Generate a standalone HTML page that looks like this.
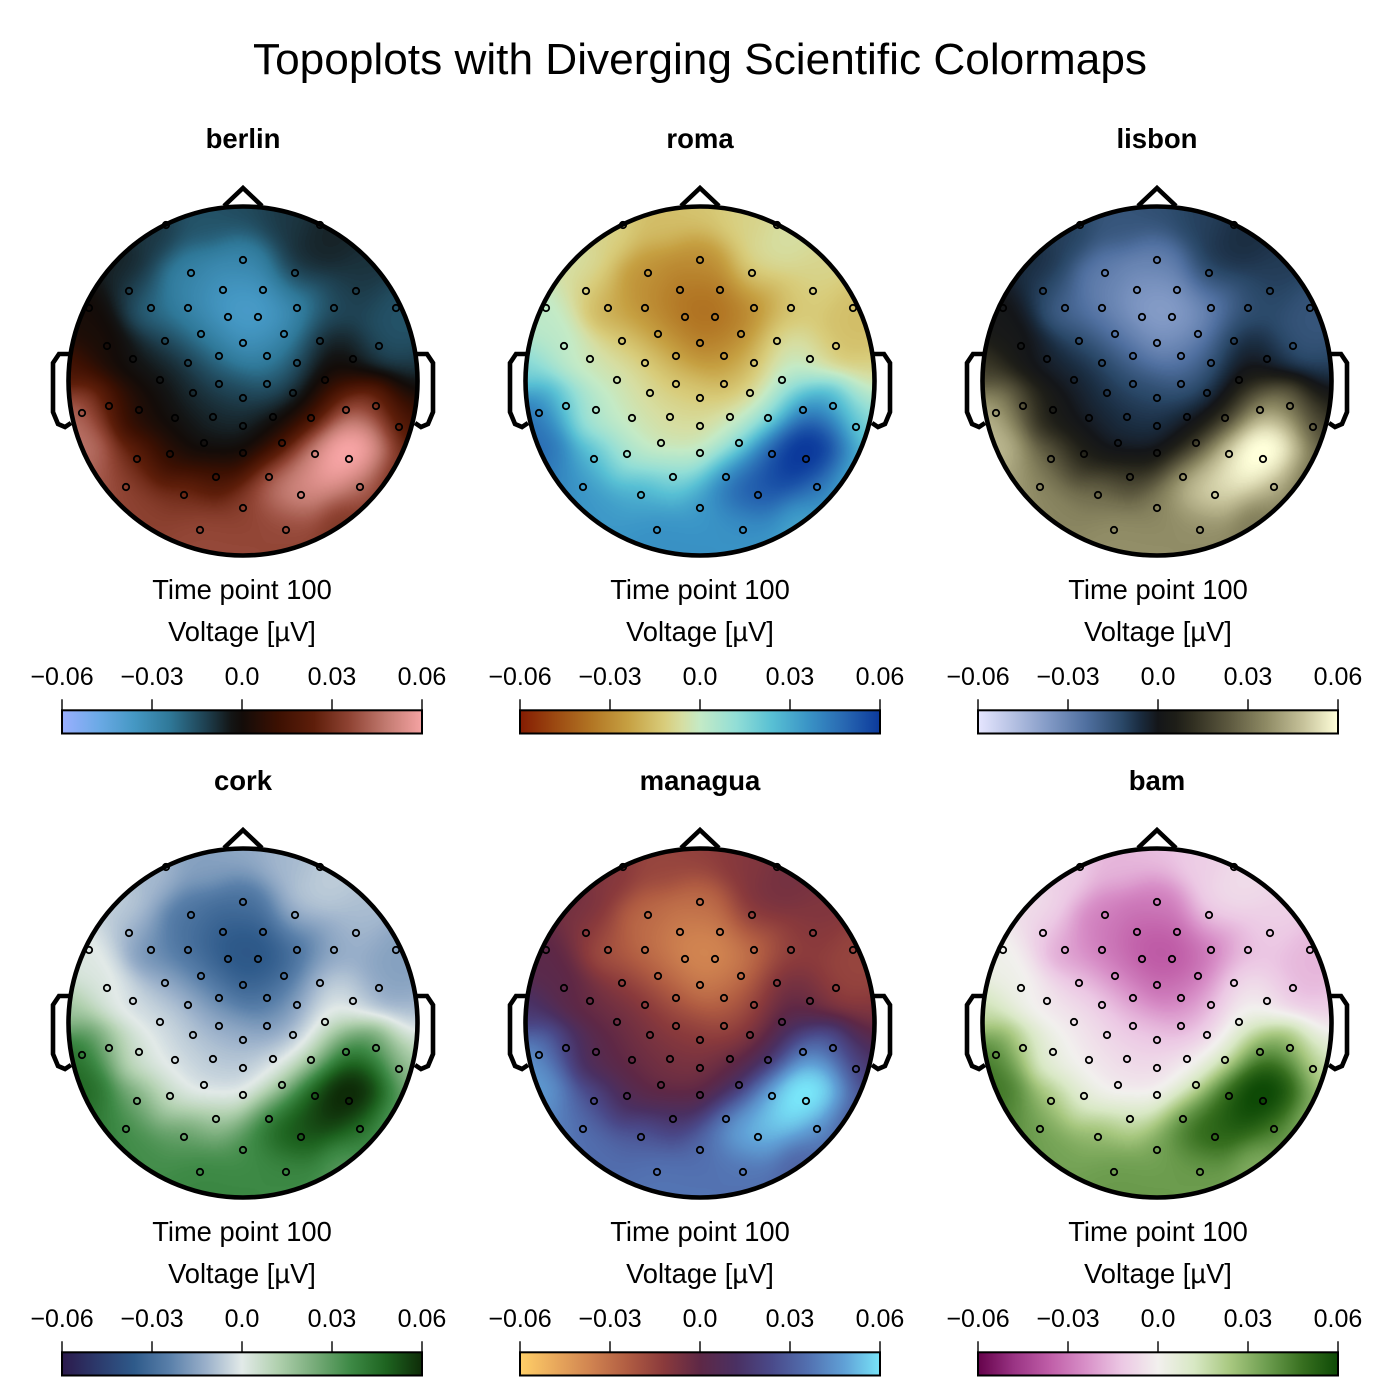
<!DOCTYPE html>
<html><head><meta charset="utf-8">
<style>
html,body{margin:0;padding:0;background:#fff;}
#wrap{position:relative;width:1400px;height:1400px;overflow:hidden;background:#fff;}
canvas{position:absolute;}
svg{position:absolute;left:0;top:0;}
text{font-family:"Liberation Sans",Arial,sans-serif;fill:#000;}
</style></head><body>
<div id="wrap">
<canvas id="c0" width="352" height="352" style="left:67px;top:205px"></canvas>
<canvas id="c1" width="352" height="352" style="left:524px;top:205px"></canvas>
<canvas id="c2" width="352" height="352" style="left:981px;top:205px"></canvas>
<canvas id="c3" width="352" height="352" style="left:67px;top:847px"></canvas>
<canvas id="c4" width="352" height="352" style="left:524px;top:847px"></canvas>
<canvas id="c5" width="352" height="352" style="left:981px;top:847px"></canvas>
<svg width="1400" height="1400" viewBox="0 0 1400 1400">
<defs>
<linearGradient id="g0" x1="0" x2="1" y1="0" y2="0">
<stop offset="0" stop-color="#9AAFFF"/><stop offset="0.1" stop-color="#6CAAE6"/><stop offset="0.2" stop-color="#4598C4"/><stop offset="0.3" stop-color="#2F7898"/><stop offset="0.4" stop-color="#1E4050"/><stop offset="0.47" stop-color="#131515"/><stop offset="0.5" stop-color="#130C09"/><stop offset="0.6" stop-color="#3C1002"/><stop offset="0.7" stop-color="#5E1E0A"/><stop offset="0.8" stop-color="#904434"/><stop offset="0.9" stop-color="#C27A70"/><stop offset="1" stop-color="#F5A3A3"/>
</linearGradient>
<linearGradient id="g1" x1="0" x2="1" y1="0" y2="0">
<stop offset="0" stop-color="#841C02"/><stop offset="0.1" stop-color="#9C4A12"/><stop offset="0.2" stop-color="#B27624"/><stop offset="0.3" stop-color="#C6A042"/><stop offset="0.4" stop-color="#D8CC7A"/><stop offset="0.45" stop-color="#D6DEA2"/><stop offset="0.5" stop-color="#C4EAC6"/><stop offset="0.6" stop-color="#92DED6"/><stop offset="0.7" stop-color="#58C0D4"/><stop offset="0.8" stop-color="#3A94C6"/><stop offset="0.9" stop-color="#2868B2"/><stop offset="1" stop-color="#0C3A9C"/>
</linearGradient>
<linearGradient id="g2" x1="0" x2="1" y1="0" y2="0">
<stop offset="0" stop-color="#E6E6FF"/><stop offset="0.1" stop-color="#B4C0E2"/><stop offset="0.2" stop-color="#8098C4"/><stop offset="0.3" stop-color="#5070A0"/><stop offset="0.4" stop-color="#2A4868"/><stop offset="0.45" stop-color="#1A2C40"/><stop offset="0.5" stop-color="#141619"/><stop offset="0.55" stop-color="#1E1E18"/><stop offset="0.6" stop-color="#323022"/><stop offset="0.7" stop-color="#5E5A40"/><stop offset="0.8" stop-color="#8E8A64"/><stop offset="0.9" stop-color="#C4C098"/><stop offset="1" stop-color="#FFFFDA"/>
</linearGradient>
<linearGradient id="g3" x1="0" x2="1" y1="0" y2="0">
<stop offset="0" stop-color="#2C1A4C"/><stop offset="0.1" stop-color="#2C3A6C"/><stop offset="0.2" stop-color="#2E5A8A"/><stop offset="0.3" stop-color="#5A80AA"/><stop offset="0.4" stop-color="#9AB0CA"/><stop offset="0.5" stop-color="#E2EAE8"/><stop offset="0.6" stop-color="#B0D0AE"/><stop offset="0.7" stop-color="#78AC7A"/><stop offset="0.8" stop-color="#3E8A46"/><stop offset="0.9" stop-color="#1E6420"/><stop offset="1" stop-color="#0E2C08"/>
</linearGradient>
<linearGradient id="g4" x1="0" x2="1" y1="0" y2="0">
<stop offset="0" stop-color="#FFCF68"/><stop offset="0.1" stop-color="#E8A85C"/><stop offset="0.2" stop-color="#CF8250"/><stop offset="0.3" stop-color="#B05C42"/><stop offset="0.4" stop-color="#8A3A3C"/><stop offset="0.5" stop-color="#5E2846"/><stop offset="0.6" stop-color="#4A3062"/><stop offset="0.7" stop-color="#4A4A8A"/><stop offset="0.8" stop-color="#5270B0"/><stop offset="0.9" stop-color="#60A0D6"/><stop offset="1" stop-color="#78E4F8"/>
</linearGradient>
<linearGradient id="g5" x1="0" x2="1" y1="0" y2="0">
<stop offset="0" stop-color="#65024B"/><stop offset="0.1" stop-color="#9A3484"/><stop offset="0.2" stop-color="#C05EA8"/><stop offset="0.3" stop-color="#D890C8"/><stop offset="0.4" stop-color="#ECC8E4"/><stop offset="0.5" stop-color="#F2F0EE"/><stop offset="0.6" stop-color="#D8E8C4"/><stop offset="0.7" stop-color="#A8C880"/><stop offset="0.8" stop-color="#6E9E50"/><stop offset="0.9" stop-color="#387020"/><stop offset="1" stop-color="#0E4A06"/>
</linearGradient>
<g id="hd" fill="none" stroke="#000" stroke-width="4.6" stroke-linejoin="miter">
<circle cx="0" cy="0" r="174.5"/>
<polyline points="-19,-175 0,-193 19,-175"/>
<polyline points="-173,-27 -184,-27 -190,-18 -190,31 -185,43 -178,46 -172,42"/>
<polyline points="173,-27 184,-27 190,-18 190,31 185,43 178,46 172,42"/>
</g>
<g id="el" fill="none" stroke="#000" stroke-width="1.8">
<circle cx="0" cy="-121" r="3.2"/><circle cx="-52" cy="-108" r="3.2"/><circle cx="52" cy="-108" r="3.2"/><circle cx="-114" cy="-90" r="3.2"/><circle cx="-20" cy="-91" r="3.2"/><circle cx="20" cy="-91" r="3.2"/><circle cx="113" cy="-90" r="3.2"/>
<circle cx="-154" cy="-73" r="3.2"/><circle cx="-92" cy="-73" r="3.2"/><circle cx="-55" cy="-73" r="3.2"/><circle cx="-15" cy="-64" r="3.2"/><circle cx="15" cy="-64" r="3.2"/><circle cx="54" cy="-73" r="3.2"/><circle cx="91" cy="-73" r="3.2"/><circle cx="153" cy="-73" r="3.2"/>
<circle cx="-42" cy="-47" r="3.2"/><circle cx="41" cy="-47" r="3.2"/><circle cx="-78" cy="-40" r="3.2"/><circle cx="0" cy="-38" r="3.2"/><circle cx="77" cy="-40" r="3.2"/><circle cx="-136" cy="-35" r="3.2"/><circle cx="136" cy="-35" r="3.2"/>
<circle cx="-110" cy="-22" r="3.2"/><circle cx="-24" cy="-25" r="3.2"/><circle cx="24" cy="-25" r="3.2"/><circle cx="-55" cy="-18" r="3.2"/><circle cx="54" cy="-18" r="3.2"/><circle cx="110" cy="-22" r="3.2"/>
<circle cx="-83" cy="-1" r="3.2"/><circle cx="-24" cy="3" r="3.2"/><circle cx="24" cy="3" r="3.2"/><circle cx="82" cy="-1" r="3.2"/><circle cx="-50" cy="12" r="3.2"/><circle cx="50" cy="12" r="3.2"/><circle cx="0" cy="17" r="3.2"/>
<circle cx="-161" cy="32" r="3.2"/><circle cx="-134" cy="25" r="3.2"/><circle cx="-104" cy="29" r="3.2"/><circle cx="-68" cy="37" r="3.2"/><circle cx="-30" cy="36" r="3.2"/><circle cx="30" cy="36" r="3.2"/><circle cx="68" cy="37" r="3.2"/><circle cx="103" cy="29" r="3.2"/><circle cx="133" cy="25" r="3.2"/>
<circle cx="0" cy="45" r="3.2"/><circle cx="156" cy="46" r="3.2"/><circle cx="-39" cy="62" r="3.2"/><circle cx="39" cy="62" r="3.2"/><circle cx="0" cy="72" r="3.2"/><circle cx="-106" cy="78" r="3.2"/><circle cx="-73" cy="73" r="3.2"/><circle cx="72" cy="73" r="3.2"/><circle cx="106" cy="78" r="3.2"/>
<circle cx="-27" cy="96" r="3.2"/><circle cx="26" cy="96" r="3.2"/><circle cx="-117" cy="106" r="3.2"/><circle cx="-59" cy="114" r="3.2"/><circle cx="58" cy="114" r="3.2"/><circle cx="117" cy="106" r="3.2"/><circle cx="0" cy="127" r="3.2"/><circle cx="-43" cy="149" r="3.2"/><circle cx="43" cy="149" r="3.2"/>
<circle cx="-77" cy="-156" r="3.2"/><circle cx="77" cy="-156" r="3.2"/>
</g>
</defs>

<text x="700" y="74" font-size="44" text-anchor="middle" textLength="894" lengthAdjust="spacingAndGlyphs">Topoplots with Diverging Scientific Colormaps</text>

<use href="#el" x="243" y="381"/><use href="#hd" x="243" y="381"/>
<use href="#el" x="700" y="381"/><use href="#hd" x="700" y="381"/>
<use href="#el" x="1157" y="381"/><use href="#hd" x="1157" y="381"/>
<use href="#el" x="243" y="1023"/><use href="#hd" x="243" y="1023"/>
<use href="#el" x="700" y="1023"/><use href="#hd" x="700" y="1023"/>
<use href="#el" x="1157" y="1023"/><use href="#hd" x="1157" y="1023"/>

<g font-weight="bold" font-size="27.5" text-anchor="middle">
<text x="243" y="148">berlin</text>
<text x="700" y="148">roma</text>
<text x="1157" y="148">lisbon</text>
<text x="243" y="790">cork</text>
<text x="700" y="790">managua</text>
<text x="1157" y="790">bam</text>
</g>

<g font-size="27.3" text-anchor="middle">
<text x="242" y="599">Time point 100</text><text x="242" y="641">Voltage [µV]</text>
<text x="700" y="599">Time point 100</text><text x="700" y="641">Voltage [µV]</text>
<text x="1158" y="599">Time point 100</text><text x="1158" y="641">Voltage [µV]</text>
<text x="242" y="1241">Time point 100</text><text x="242" y="1283">Voltage [µV]</text>
<text x="700" y="1241">Time point 100</text><text x="700" y="1283">Voltage [µV]</text>
<text x="1158" y="1241">Time point 100</text><text x="1158" y="1283">Voltage [µV]</text>
</g>

<g font-size="25" text-anchor="middle">
<text x="62" y="685">−0.06</text><text x="152" y="685">−0.03</text><text x="242" y="685">0.0</text><text x="332" y="685">0.03</text><text x="422" y="685">0.06</text>
<text x="520" y="685">−0.06</text><text x="610" y="685">−0.03</text><text x="700" y="685">0.0</text><text x="790" y="685">0.03</text><text x="880" y="685">0.06</text>
<text x="978" y="685">−0.06</text><text x="1068" y="685">−0.03</text><text x="1158" y="685">0.0</text><text x="1248" y="685">0.03</text><text x="1338" y="685">0.06</text>
<text x="62" y="1327">−0.06</text><text x="152" y="1327">−0.03</text><text x="242" y="1327">0.0</text><text x="332" y="1327">0.03</text><text x="422" y="1327">0.06</text>
<text x="520" y="1327">−0.06</text><text x="610" y="1327">−0.03</text><text x="700" y="1327">0.0</text><text x="790" y="1327">0.03</text><text x="880" y="1327">0.06</text>
<text x="978" y="1327">−0.06</text><text x="1068" y="1327">−0.03</text><text x="1158" y="1327">0.0</text><text x="1248" y="1327">0.03</text><text x="1338" y="1327">0.06</text>
</g>

<g stroke="#000" stroke-width="2">
<rect x="62" y="710.3" width="360" height="23.2" fill="url(#g0)"/>
<rect x="520" y="710.3" width="360" height="23.2" fill="url(#g1)"/>
<rect x="978" y="710.3" width="360" height="23.2" fill="url(#g2)"/>
<rect x="62" y="1352.3" width="360" height="23.2" fill="url(#g3)"/>
<rect x="520" y="1352.3" width="360" height="23.2" fill="url(#g4)"/>
<rect x="978" y="1352.3" width="360" height="23.2" fill="url(#g5)"/>
</g>
<g stroke="#000" stroke-width="1.4">
<path d="M62 699.3V710.3M152 699.3V710.3M242 699.3V710.3M332 699.3V710.3M422 699.3V710.3"/>
<path d="M520 699.3V710.3M610 699.3V710.3M700 699.3V710.3M790 699.3V710.3M880 699.3V710.3"/>
<path d="M978 699.3V710.3M1068 699.3V710.3M1158 699.3V710.3M1248 699.3V710.3M1338 699.3V710.3"/>
<path d="M62 1341.3V1352.3M152 1341.3V1352.3M242 1341.3V1352.3M332 1341.3V1352.3M422 1341.3V1352.3"/>
<path d="M520 1341.3V1352.3M610 1341.3V1352.3M700 1341.3V1352.3M790 1341.3V1352.3M880 1341.3V1352.3"/>
<path d="M978 1341.3V1352.3M1068 1341.3V1352.3M1158 1341.3V1352.3M1248 1341.3V1352.3M1338 1341.3V1352.3"/>
</g>
</svg>
</div>
<script>
(function(){
var P=[
[0,-121,-2.8],[-52,-108,-2.7],[52,-108,-0.7],[-114,-90,-1.0],[-20,-91,-3.5],[20,-91,-3.6],[113,-90,-1.0],
[-154,-73,0.0],[-92,-73,-2.3],[-55,-73,-3.0],[-15,-64,-3.9],[15,-64,-4.0],[54,-73,-3.1],[91,-73,-1.5],[153,-73,-1.6],
[-42,-47,-2.6],[41,-47,-3.3],[-78,-40,-1.2],[0,-38,-3.5],[77,-40,-0.4],[-136,-35,0.2],[136,-35,-1.6],
[-110,-22,-0.3],[-24,-25,-2.3],[24,-25,-2.8],[-55,-18,-0.9],[54,-18,-1.5],[110,-22,-0.3],
[-83,-1,-0.2],[-24,3,-1.4],[24,3,-2.1],[82,-1,0.5],[-50,12,-0.7],[50,12,-1.0],[0,17,-1.2],
[-161,32,4.4],[-134,25,1.6],[-104,29,0.3],[-68,37,-0.2],[-30,36,-0.6],[30,36,-0.2],[68,37,1.4],[103,29,3.8],[133,25,2.6],
[0,45,-0.7],[156,46,2.2],[-39,62,-0.5],[39,62,0.6],[0,72,-0.3],[-106,78,2.4],[-73,73,0.6],[72,73,5.4],[106,78,6.2],
[-27,96,1.6],[26,96,4.6],[-117,106,3.6],[-59,114,3.0],[58,114,5.2],[117,106,3.6],[0,127,3.5],[-43,149,3.7],[43,149,3.7],
[0,-172,-1.4],[-40,-160,-1.6],[40,-160,-1.0],[-90,-145,-1.0],[90,-140,-0.6],[-130,-115,-0.5],[130,-115,-0.9],
[-160,-65,0.3],[160,-65,-1.6],[-173,-10,1.5],[174,-15,-1.4],[174,10,-0.2],[171,35,1.2],[-170,45,4.8],[-162,70,4.8],
[-145,95,4.2],[150,90,2.6],[-95,145,3.5],[95,145,3.1],[0,173,3.7],[-48,166,3.7],[48,166,3.6],
[110,64,7.0],[95,80,6.6],[125,55,6.0],[60,88,5.6]
];
var CM={
berlin:[[0,'#9AAFFF'],[0.1,'#6CAAE6'],[0.2,'#4598C4'],[0.3,'#2F7898'],[0.4,'#1E4050'],[0.47,'#131515'],[0.5,'#130C09'],[0.6,'#3C1002'],[0.7,'#5E1E0A'],[0.8,'#904434'],[0.9,'#C27A70'],[1,'#F5A3A3']],
roma:[[0,'#841C02'],[0.1,'#9C4A12'],[0.2,'#B27624'],[0.3,'#C6A042'],[0.4,'#D8CC7A'],[0.45,'#D6DEA2'],[0.5,'#C4EAC6'],[0.6,'#92DED6'],[0.7,'#58C0D4'],[0.8,'#3A94C6'],[0.9,'#2868B2'],[1,'#0C3A9C']],
lisbon:[[0,'#E6E6FF'],[0.1,'#B4C0E2'],[0.2,'#8098C4'],[0.3,'#5070A0'],[0.4,'#2A4868'],[0.45,'#1A2C40'],[0.5,'#141619'],[0.55,'#1E1E18'],[0.6,'#323022'],[0.7,'#5E5A40'],[0.8,'#8E8A64'],[0.9,'#C4C098'],[1,'#FFFFDA']],
cork:[[0,'#2C1A4C'],[0.1,'#2C3A6C'],[0.2,'#2E5A8A'],[0.3,'#5A80AA'],[0.4,'#9AB0CA'],[0.5,'#E2EAE8'],[0.6,'#B0D0AE'],[0.7,'#78AC7A'],[0.8,'#3E8A46'],[0.9,'#1E6420'],[1,'#0E2C08']],
managua:[[0,'#FFCF68'],[0.1,'#E8A85C'],[0.2,'#CF8250'],[0.3,'#B05C42'],[0.4,'#8A3A3C'],[0.5,'#5E2846'],[0.6,'#4A3062'],[0.7,'#4A4A8A'],[0.8,'#5270B0'],[0.9,'#60A0D6'],[1,'#78E4F8']],
bam:[[0,'#65024B'],[0.1,'#9A3484'],[0.2,'#C05EA8'],[0.3,'#D890C8'],[0.4,'#ECC8E4'],[0.5,'#F2F0EE'],[0.6,'#D8E8C4'],[0.7,'#A8C880'],[0.8,'#6E9E50'],[0.9,'#387020'],[1,'#0E4A06']]
};
var heads=[['c0','berlin'],['c1','roma'],['c2','lisbon'],['c3','cork'],['c4','managua'],['c5','bam']];
var S=352,R=176,inv=1/(2*20*20);
var T=new Float32Array(S*S);
for(var j=0;j<S;j++){for(var i=0;i<S;i++){
  var x=i+0.5-R,y=j+0.5-R;
  if(x*x+y*y>(R-0.5)*(R-0.5)){T[j*S+i]=-1;continue;}
  var sw=0,sv=0;
  for(var k=0;k<P.length;k++){var dx=x-P[k][0],dy=y-P[k][1];var w=Math.exp(-(dx*dx+dy*dy)*inv);sw+=w;sv+=w*P[k][2];}
  var v=sw>1e-30?sv/sw:0;
  var t=(v+6)/12; if(t<0)t=0; if(t>1)t=1;
  T[j*S+i]=t;
}}
function hex(h){return [parseInt(h.substr(1,2),16),parseInt(h.substr(3,2),16),parseInt(h.substr(5,2),16)];}
function lut(stops){
  var L=new Uint8ClampedArray(256*3);
  var s=stops.map(function(a){return [a[0],hex(a[1])];});
  for(var k=0;k<256;k++){
    var t=k/255,i=0;
    while(i<s.length-2&&t>s[i+1][0])i++;
    var a=s[i],b=s[i+1],f=(t-a[0])/(b[0]-a[0]);
    for(var c=0;c<3;c++)L[k*3+c]=a[1][c]+(b[1][c]-a[1][c])*f;
  }
  return L;
}
heads.forEach(function(h){
  var cv=document.getElementById(h[0]);var ctx=cv.getContext('2d');
  var img=ctx.createImageData(S,S);var d=img.data;var L=lut(CM[h[1]]);
  for(var p=0;p<S*S;p++){
    var t=T[p];
    if(t<0){d[p*4+3]=0;continue;}
    var k=Math.round(t*255)*3;
    d[p*4]=L[k];d[p*4+1]=L[k+1];d[p*4+2]=L[k+2];d[p*4+3]=255;
  }
  ctx.putImageData(img,0,0);
});
})();
</script>
</body></html>
